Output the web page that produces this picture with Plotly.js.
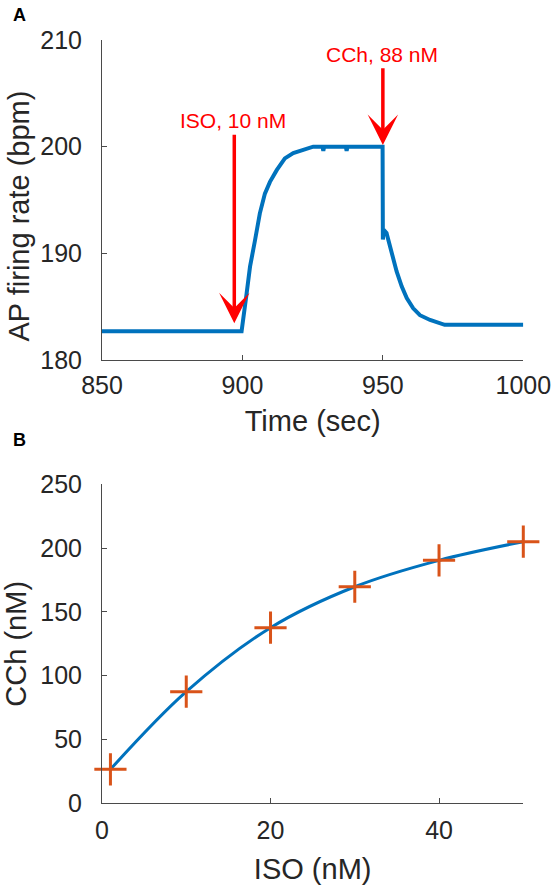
<!DOCTYPE html>
<html>
<head>
<meta charset="utf-8">
<script src="https://cdn.plot.ly/plotly-3.0.1.min.js"></script>
<style>
  html, body { margin: 0; padding: 0; background: #ffffff; }
  #chart { width: 552px; height: 887px; }
</style>
</head>
<body>
<div id="chart"></div>
<script>
// ---------- Panel A: AP firing rate vs time ----------
var timeSec = [850, 899.7, 901.5, 902.7, 904.5, 906.2, 908.0, 909.8, 912.2, 915.1, 918.1, 921.7, 925.2,
               928.5, 928.8, 929.1, 936.8, 937.1, 937.4, 949.9, 950.0, 950.3, 951.3, 953.1, 954.9,
               956.7, 958.5, 960.8, 963.2, 966.8, 970.3, 972.0, 1000];
var firingRate = [182.7, 182.7, 186.25, 188.75, 191.25, 193.75, 195.6, 196.7, 197.8, 198.9, 199.4, 199.7, 200,
                  200, 199.6, 200, 200, 199.6, 200, 200, 191.3, 192.2, 191.9, 190.0, 188.3,
                  186.9, 185.8, 184.85, 184.2, 183.75, 183.4, 183.3, 183.3];
var timeTicks = [850, 900, 950, 1000];
var rateTicks = [180, 190, 200, 210];

// drug application arrows
var isoArrow = {label: 'ISO, 10 nM', x: 897.1, tail: 201.25, tip: 183.44, labelX: 896.6, labelY: 202.45};
var cchArrow = {label: 'CCh, 88 nM', x: 950, tail: 207.5, tip: 200.16, labelX: 949.7, labelY: 208.65};

// ---------- Panel B: CCh vs ISO ----------
var isoConc = [1, 10, 20, 30, 40, 50];
var cchConc = [26.6, 87.5, 137.6, 169.7, 190.4, 205];
var isoTicks = [0, 20, 40];
var cchTicks = [0, 50, 100, 150, 200, 250];

var FONT = '"Liberation Sans", Arial, Helvetica, sans-serif';
var TXT = '#262626';
var AXC = '#4a4a4a';
var BLUE = '#0072BD';
var ORANGE = '#D95319';
var RED = '#FF0000';

var traces = [
  {x: timeSec, y: firingRate, xaxis: 'x', yaxis: 'y', type: 'scatter', mode: 'lines',
   line: {color: BLUE, width: 4}, hoverinfo: 'skip', showlegend: false},
  {x: isoConc, y: cchConc, xaxis: 'x2', yaxis: 'y2', type: 'scatter', mode: 'lines',
   line: {color: BLUE, width: 3, shape: 'spline', smoothing: 1}, showlegend: false, cliponaxis: false},
  {x: isoConc, y: cchConc, xaxis: 'x2', yaxis: 'y2', type: 'scatter', mode: 'markers',
   marker: {symbol: 'cross-thin-open', size: 23, color: ORANGE, line: {color: ORANGE, width: 3}},
   showlegend: false, cliponaxis: false}
];

function axisBase(extra) {
  var a = {
    showline: true, linecolor: AXC, linewidth: 1,
    ticks: 'inside', ticklen: 5, tickwidth: 1, tickcolor: AXC,
    showgrid: false, zeroline: false, mirror: false,
    tickfont: {family: FONT, size: 25, color: TXT},
    ticklabeloverflow: 'allow',
    tickmode: 'array', fixedrange: true
  };
  for (var k in extra) a[k] = extra[k];
  return a;
}

var W = 552, H = 887;
var xDom = [102 / W, 523.3 / W];

var layout = {
  width: W, height: H,
  margin: {l: 0, r: 0, t: 0, b: 0},
  paper_bgcolor: '#ffffff', plot_bgcolor: '#ffffff',
  font: {family: FONT, color: TXT},
  showlegend: false,
  xaxis: axisBase({domain: xDom, anchor: 'y', range: [850, 1000], tickvals: timeTicks,
    ticklabelstandoff: 3,
    title: {text: 'Time (sec)', font: {family: FONT, size: 29, color: TXT}, standoff: 12}}),
  yaxis: axisBase({domain: [1 - 360 / H, 1 - 40 / H], anchor: 'x', range: [180, 210], tickvals: rateTicks,
    ticklabelstandoff: 14}),
  xaxis2: axisBase({domain: xDom, anchor: 'y2', range: [0, 50], tickvals: isoTicks,
    ticklabelstandoff: 5,
    title: {text: 'ISO (nM)', font: {family: FONT, size: 29, color: TXT}, standoff: 15}}),
  yaxis2: axisBase({domain: [1 - 803.3 / H, 1 - 484.3 / H], anchor: 'x2', range: [0, 250], tickvals: cchTicks,
    ticklabelstandoff: 14,
    title: {text: 'CCh (nM)', font: {family: FONT, size: 29, color: TXT}, standoff: 6}}),
  annotations: [
    {text: '<b>A</b>', xref: 'paper', yref: 'paper', x: 11 / W, y: 1 - 15 / H, xanchor: 'left', yanchor: 'middle',
     showarrow: false, font: {family: FONT, size: 18, color: '#000000'}},
    {text: '<b>B</b>', xref: 'paper', yref: 'paper', x: 11 / W, y: 1 - 440.5 / H, xanchor: 'left', yanchor: 'middle',
     showarrow: false, font: {family: FONT, size: 18, color: '#000000'}},
    {text: 'AP firing rate (bpm)', xref: 'paper', yref: 'paper', x: 18 / W, y: 1 - 216.5 / H,
     xanchor: 'center', yanchor: 'middle', textangle: -90, showarrow: false,
     font: {family: FONT, size: 29, color: TXT}},
    {text: '', xref: 'x', yref: 'y', axref: 'x', ayref: 'y', x: isoArrow.x, y: isoArrow.tip,
     ax: isoArrow.x, ay: isoArrow.tail, showarrow: true, arrowhead: 3, arrowsize: 1.45, arrowwidth: 3.5,
     arrowcolor: RED, standoff: 0, startstandoff: 0},
    {text: isoArrow.label, xref: 'x', yref: 'y', x: isoArrow.labelX, y: isoArrow.labelY,
     xanchor: 'center', yanchor: 'middle', showarrow: false, font: {family: FONT, size: 21, color: RED}},
    {text: '', xref: 'x', yref: 'y', axref: 'x', ayref: 'y', x: cchArrow.x, y: cchArrow.tip,
     ax: cchArrow.x, ay: cchArrow.tail, showarrow: true, arrowhead: 3, arrowsize: 1.45, arrowwidth: 3.5,
     arrowcolor: RED, standoff: 0, startstandoff: 0},
    {text: cchArrow.label, xref: 'x', yref: 'y', x: cchArrow.labelX, y: cchArrow.labelY,
     xanchor: 'center', yanchor: 'middle', showarrow: false, font: {family: FONT, size: 21, color: RED}}
  ]
};

Plotly.newPlot('chart', traces, layout, {staticPlot: true, displayModeBar: false});
</script>
</body>
</html>
